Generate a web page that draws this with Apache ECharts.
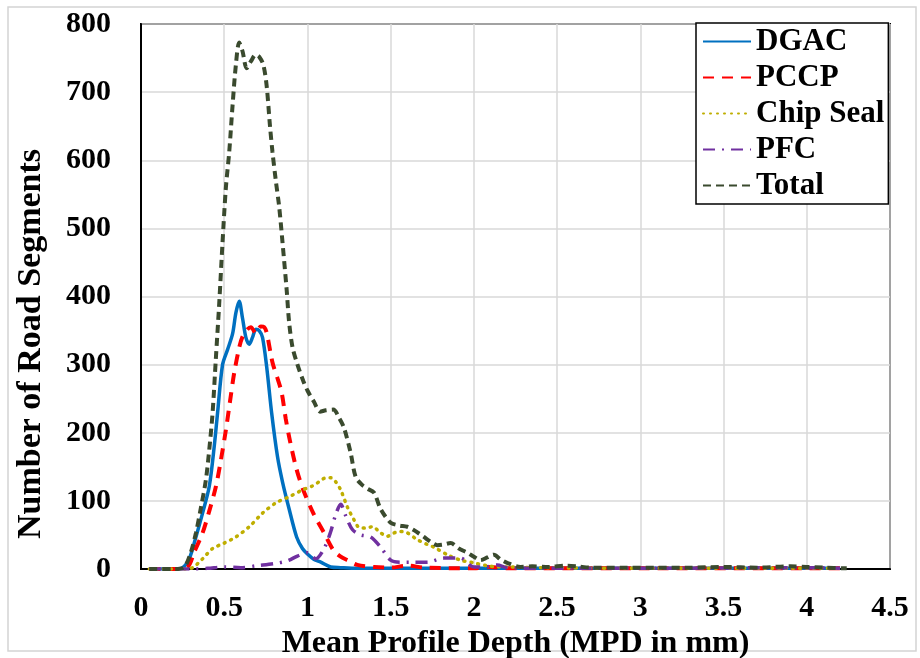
<!DOCTYPE html>
<html>
<head>
<meta charset="utf-8">
<title>MPD distribution</title>
<script src="https://cdn.jsdelivr.net/npm/echarts@6/dist/echarts.min.js"></script>
<style>
  html, body { margin: 0; padding: 0; background: #fff; }
  #chart { width: 920px; height: 658px; }
</style>
</head>
<body>
<div id="chart"></div>
<script>
  // [MPD in mm, number of road segments]
  var dgac = [[0.05, 0], [0.2, 0], [0.25, 2], [0.29, 15], [0.33, 47], [0.37, 82], [0.41, 121], [0.44, 180],
    [0.46, 229], [0.49, 300], [0.52, 322], [0.55, 345], [0.57, 376], [0.59, 393], [0.61, 368], [0.63, 340],
    [0.65, 330], [0.67, 340], [0.69, 352], [0.71, 350], [0.73, 340], [0.755, 297], [0.785, 229], [0.82, 165],
    [0.85, 128], [0.89, 88], [0.935, 47], [0.97, 30], [1.0, 22], [1.04, 14], [1.08, 10], [1.14, 3], [1.2, 2],
    [1.3, 1], [1.6, 1], [2.0, 1], [2.5, 1], [3.0, 1], [3.5, 1], [4.2, 1]]
  var pccp = [[0.05, 0], [0.2, 0], [0.28, 3], [0.32, 25], [0.37, 53], [0.41, 85], [0.45, 121], [0.48, 160],
    [0.51, 204], [0.54, 255], [0.56, 288], [0.59, 325], [0.61, 341], [0.64, 352], [0.66, 355], [0.69, 346],
    [0.72, 356], [0.74, 355], [0.755, 347], [0.79, 303], [0.82, 280], [0.845, 259], [0.87, 220], [0.895, 188],
    [0.935, 146], [0.975, 116], [1.035, 82], [1.1, 53], [1.155, 28], [1.2, 18], [1.24, 13], [1.3, 6], [1.4, 3],
    [1.5, 2], [1.6, 5], [1.7, 2], [2.0, 1], [2.1, 3], [2.2, 1], [2.5, 1], [3.0, 1], [4.0, 1], [4.2, 1]]
  var chipSeal = [[0.05, 0], [0.25, 0], [0.31, 2], [0.37, 15], [0.43, 30], [0.5, 38], [0.57, 47], [0.65, 62],
    [0.73, 82], [0.81, 97], [0.89, 106], [0.97, 116], [1.03, 122], [1.07, 128], [1.1, 133], [1.14, 134],
    [1.17, 128], [1.2, 116], [1.24, 91], [1.28, 72], [1.31, 61], [1.35, 60], [1.39, 62], [1.44, 53], [1.48, 48],
    [1.52, 53], [1.56, 55], [1.6, 53], [1.66, 43], [1.72, 36], [1.76, 32], [1.84, 21], [1.92, 13], [2.0, 9],
    [2.1, 4], [2.2, 3], [2.4, 2], [3.0, 1], [4.0, 1], [4.2, 1]]
  var pfc = [[0.05, 0], [0.3, 0], [0.4, 1], [0.5, 3], [0.6, 2], [0.7, 5], [0.8, 8], [0.88, 12], [0.94, 19],
    [1.0, 24], [1.05, 15], [1.1, 30], [1.14, 55], [1.17, 80], [1.2, 95], [1.23, 78], [1.27, 58], [1.32, 50],
    [1.38, 47], [1.44, 32], [1.5, 13], [1.56, 10], [1.62, 10], [1.72, 10], [1.82, 16], [1.92, 16], [2.0, 3],
    [2.07, 3], [2.14, 6], [2.2, 2], [2.4, 1], [3.0, 1], [4.0, 2], [4.2, 1]]
  var total = [[0.05, 0], [0.2, 0], [0.26, 3], [0.3, 25], [0.33, 53], [0.36, 90], [0.39, 131], [0.41, 175],
    [0.43, 229], [0.45, 310], [0.47, 390], [0.49, 480], [0.51, 560], [0.53, 612], [0.55, 680], [0.57, 740],
    [0.59, 773], [0.61, 760], [0.635, 735], [0.66, 745], [0.69, 755], [0.71, 752], [0.735, 740], [0.755, 709],
    [0.775, 650], [0.79, 612], [0.81, 570], [0.83, 532], [0.85, 480], [0.875, 410], [0.89, 362], [0.91, 326],
    [0.94, 300], [0.975, 276], [1.0, 262], [1.04, 245], [1.075, 231], [1.11, 233], [1.155, 234], [1.19, 222],
    [1.22, 207], [1.26, 170], [1.29, 135], [1.33, 123], [1.36, 118], [1.4, 112], [1.44, 88], [1.5, 68],
    [1.55, 64], [1.6, 62], [1.64, 57], [1.7, 47], [1.74, 40], [1.78, 35], [1.82, 36], [1.86, 38], [1.91, 30],
    [1.96, 24], [2.0, 18], [2.04, 13], [2.08, 17], [2.12, 21], [2.16, 14], [2.2, 9], [2.28, 3], [2.35, 4],
    [2.45, 3], [2.55, 5], [2.62, 4], [2.7, 2], [2.9, 2], [3.1, 2], [3.3, 2], [3.5, 3], [3.7, 2], [3.9, 4],
    [4.0, 3], [4.1, 2], [4.24, 1]]

  var font = '"Liberation Serif", "Times New Roman", serif'

  var chart = echarts.init(document.getElementById('chart'))

  chart.setOption({
    backgroundColor: '#fff',
    animation: false,
    grid: {
      left: 141,
      right: 30,
      top: 24,
      bottom: 89,
      containLabel: false,
      outerBoundsMode: 'none',
      show: true,
      borderColor: '#000',
      borderWidth: 2,
      backgroundColor: 'transparent'
    },
    legend: {
      orient: 'vertical',
      left: 696,
      top: 23,
      padding: [3, 4, 3, 6],
      itemWidth: 48,
      itemHeight: 14,
      itemGap: 5,
      backgroundColor: '#fff',
      borderColor: '#000',
      borderWidth: 1.5,
      borderRadius: 0,
      itemStyle: { opacity: 0 },
      textStyle: {
        fontFamily: font,
        fontWeight: 'bold',
        fontSize: 31,
        lineHeight: 30,
        color: '#000'
      },
      data: ['DGAC', 'PCCP', 'Chip Seal', 'PFC', 'Total']
    },
    graphic: [{
      type: 'rect',
      shape: { x: 8, y: 7, width: 908, height: 644 },
      style: { fill: 'none', stroke: '#d4d4d4', lineWidth: 1.5 },
      silent: true,
      z: -1
    }, {
      type: 'text',
      x: 31,
      y: 344,
      rotation: Math.PI / 2,
      style: {
        text: 'Number of Road Segments',
        fontFamily: font,
        fontWeight: 'bold',
        fontSize: 34,
        fill: '#000',
        align: 'center',
        verticalAlign: 'middle'
      }
    }],
    xAxis: {
      type: 'value',
      min: 0,
      max: 4.5,
      interval: 0.5,
      name: 'Mean Profile Depth (MPD in mm)',
      nameLocation: 'middle',
      nameGap: 54,
      nameTextStyle: {
        fontFamily: font,
        fontWeight: 'bold',
        fontSize: 32,
        color: '#000'
      },
      axisLine: { show: true, lineStyle: { color: '#000', width: 2 } },
      axisTick: { show: false },
      axisLabel: {
        margin: 24,
        fontFamily: font,
        fontWeight: 'bold',
        fontSize: 30,
        color: '#000'
      },
      splitLine: { show: true, lineStyle: { color: '#d9d9d9', width: 1.5 } }
    },
    yAxis: {
      type: 'value',
      min: 0,
      max: 800,
      interval: 100,
      axisLine: { show: true, lineStyle: { color: '#000', width: 2 } },
      axisTick: { show: false },
      axisLabel: {
        margin: 30,
        fontFamily: font,
        fontWeight: 'bold',
        fontSize: 30,
        color: '#000'
      },
      splitLine: { show: true, lineStyle: { color: '#d9d9d9', width: 1.5 } }
    },
    series: [{
      name: 'DGAC',
      type: 'line',
      data: dgac,
      smooth: 0.3,
      symbol: 'none',
      color: '#0070c0',
      lineStyle: { color: '#0070c0', width: 3.5 }
    }, {
      name: 'PCCP',
      type: 'line',
      data: pccp,
      smooth: 0.3,
      symbol: 'none',
      color: '#ff0000',
      lineStyle: { color: '#ff0000', width: 4, type: [11, 8] }
    }, {
      name: 'Chip Seal',
      type: 'line',
      data: chipSeal,
      smooth: 0.3,
      symbol: 'none',
      color: '#bfae00',
      lineStyle: { color: '#bfae00', width: 3.5, type: [1, 6], cap: 'round' }
    }, {
      name: 'PFC',
      type: 'line',
      data: pfc,
      smooth: 0.3,
      symbol: 'none',
      color: '#7030a0',
      lineStyle: { color: '#7030a0', width: 3.5, type: [12, 7, 2, 7] }
    }, {
      name: 'Total',
      type: 'line',
      data: total,
      smooth: 0.3,
      symbol: 'none',
      color: '#3a4a2e',
      lineStyle: { color: '#3a4a2e', width: 4, type: [8, 5] }
    }]
  })
</script>
</body>
</html>
